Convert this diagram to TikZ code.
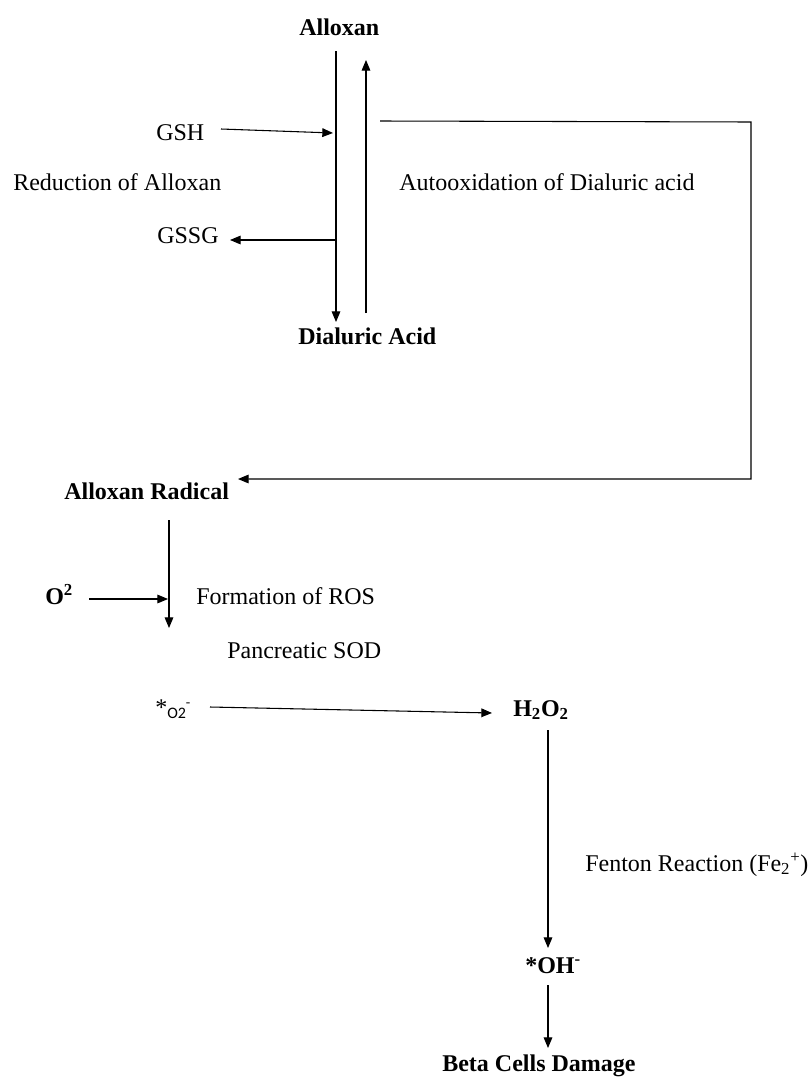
\documentclass[tikz,border=0pt]{standalone}
\usepackage{fontspec}
\setmainfont{Liberation Serif}
\newfontfamily\carl{Carlito}
\usetikzlibrary{arrows.meta}
\begin{document}
\begin{tikzpicture}[x=0.75pt,y=-0.75pt,
  lbl/.style={inner sep=0pt,anchor=base west,font=\fontsize{18}{20}\selectfont},
  blbl/.style={lbl,font=\fontsize{18}{20}\selectfont\bfseries},
  ln/.style={line width=0.8pt,black},
  arr/.style={ln,-{Triangle[length=8pt,width=6.5pt]}}]
\useasboundingbox (0,0) rectangle (810,1078);
\fill[white] (0,0) rectangle (810,1078);
% texts
\node[blbl] (alloxan) at (299,35) {Alloxan};
\node[lbl] (gsh) at (156,140) {GSH};
\node[lbl] (red) at (13,190) {Reduction of Alloxan};
\node[lbl] (gssg) at (157,243) {GSSG};
\node[lbl] (auto) at (399,190) {Autooxidation of Dialuric acid};
\node[blbl] (dial) at (298,344) {Dialuric Acid};
\node[blbl] (rad) at (64,499) {Alloxan Radical};
\node[blbl] (o2) at (45,604) {O\textsuperscript{2}};
\node[lbl] (ros) at (196,604) {Formation of ROS};
\node[lbl] (sod) at (227,658) {Pancreatic SOD};
\node[lbl] (sup) at (155,718) {\raisebox{2pt}{*}{\carl\fontsize{12}{12}\selectfont O2}\raisebox{9pt}{\fontsize{10}{10}\selectfont -}};
\node[blbl] (h2o2) at (513,716) {H\textsubscript{2}O\textsubscript{2}};
\node[lbl] (fenton) at (585,871) {Fenton Reaction (Fe\textsubscript{2}\textsuperscript{+})};
\node[blbl] (oh) at (525,973) {*OH\textsuperscript{-}};
\node[blbl] (beta) at (442,1071) {Beta Cells Damage};
% coordinates
\coordinate (a1) at (336,51);
\coordinate (a2) at (336,322);
\coordinate (b1) at (366,313);
\coordinate (b2) at (366,60);
\coordinate (g1) at (221,129);
\coordinate (g2) at (333,133);
\coordinate (s1) at (336,240);
\coordinate (s2) at (230,240);
\coordinate (r1) at (380,121);
\coordinate (r2) at (751,122);
\coordinate (r3) at (751,479);
\coordinate (r4) at (238,479);
\coordinate (d1) at (169,520);
\coordinate (d2) at (169,628);
\coordinate (o1) at (89,599);
\coordinate (o2e) at (168,599);
\coordinate (p1) at (210,707);
\coordinate (p2) at (492,713);
\coordinate (h1) at (548,730);
\coordinate (h2) at (548,948);
\coordinate (k1) at (548,985);
\coordinate (k2) at (548,1048);
% connectors
\draw[arr] (a1) -- (a2);
\draw[arr] (b1) -- (b2);
\draw[arr] (g1) -- (g2);
\draw[arr] (s1) -- (s2);
\draw[arr] (r1) -- (r2) -- (r3) -- (r4);
\draw[arr] (d1) -- (d2);
\draw[arr] (o1) -- (o2e);
\draw[arr] (p1) -- (p2);
\draw[arr] (h1) -- (h2);
\draw[arr] (k1) -- (k2);
\end{tikzpicture}
\end{document}
